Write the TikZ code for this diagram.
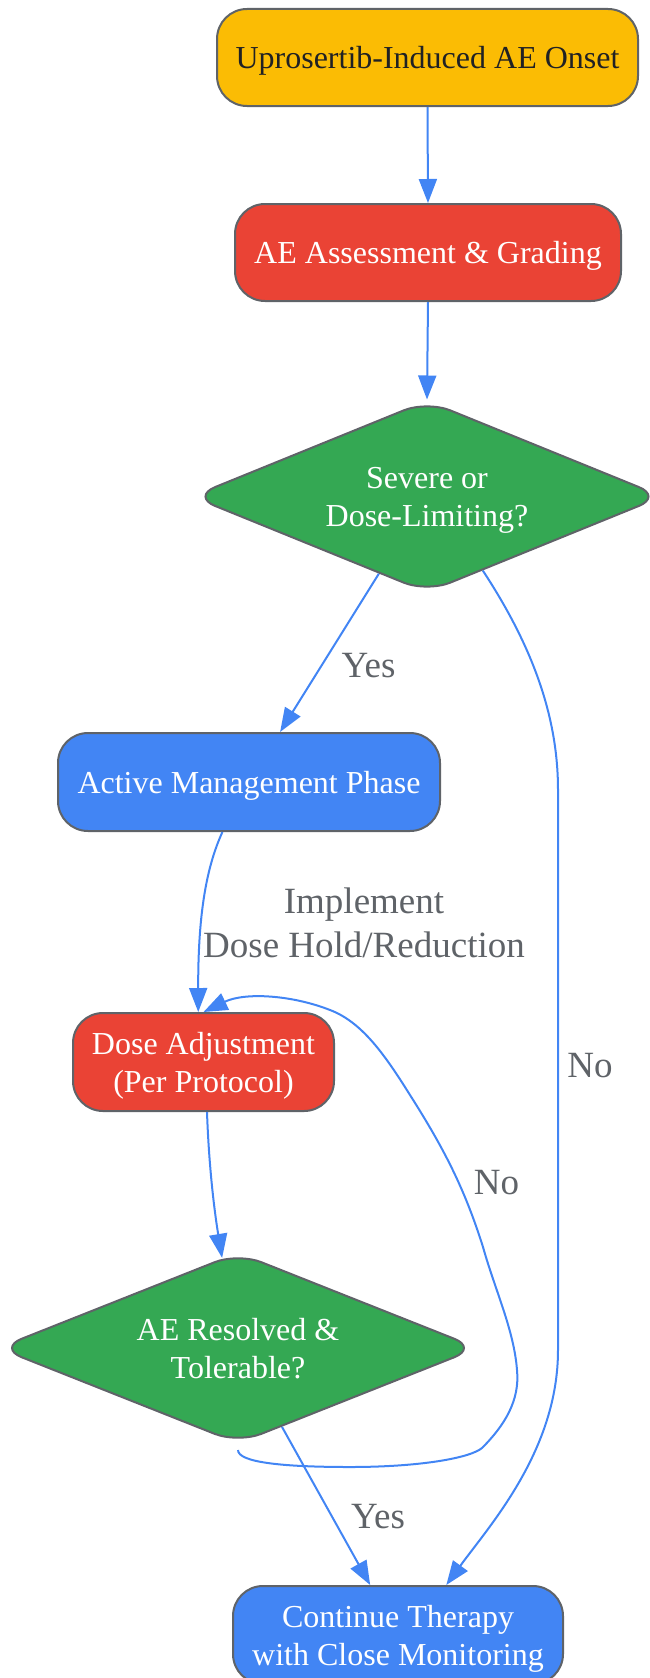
\documentclass[tikz,border=0pt]{standalone}
\usepackage{fontspec}
\setmainfont{Liberation Serif}
\usetikzlibrary{shapes.geometric,arrows.meta}
\definecolor{gyellow}{HTML}{FBBC04}
\definecolor{gred}{HTML}{EA4335}
\definecolor{ggreen}{HTML}{34A853}
\definecolor{gblue}{HTML}{4285F4}
\definecolor{edgegray}{HTML}{5F6368}
\definecolor{darktext}{HTML}{202124}
\begin{document}
\begin{tikzpicture}
[x=1pt,y=-1pt%
,every node/.style={draw=edgegray,%
	line width=2pt,%
	text=white,%
	align=center,%
	text depth=-4pt,%
	font=\fontsize{32}{38}\selectfont}%
,box/.style={rectangle,%
	rounded corners=30pt,%
	minimum height=97pt}%
,choice/.style={diamond,%
	aspect=2.5,%
	inner sep=0pt,%
	rounded corners=25pt,%
	fill=ggreen}%
,lbl/.style={draw=none,%
	text=edgegray,%
	text depth=,%
	font=\fontsize{37}{44}\selectfont}%
,flow/.style={draw=gblue,%
	line width=2pt,%
	-{Triangle[length=24pt,width=18pt]}}]
\useasboundingbox (0,0) rectangle (649,1678);
\node[box,fill=gyellow,text=darktext,minimum width=421pt] (onset) at (427.5,57.5) {Uprosertib-Induced AE Onset};
\node[box,fill=gred,minimum width=386pt] (assess) at (428,252.5) {AE Assessment \& Grading};
\node[choice,minimum width=471pt,minimum height=192pt] (severe) at (427,496.5) {Severe or\\Dose-Limiting?};
\node[box,fill=gblue,minimum width=382pt,minimum height=98pt] (active) at (249,782) {Active Management Phase};
\node[box,fill=gred,minimum width=261pt,minimum height=98pt] (dose) at (203.5,1062) {Dose Adjustment\\(Per Protocol)};
\node[choice,minimum width=480pt,minimum height=191pt] (resolved) at (238,1348) {AE Resolved \&\\Tolerable?};
\node[box,fill=gblue,minimum width=330pt,minimum height=98pt] (cont) at (398,1635) {Continue Therapy\\with Close Monitoring};
\coordinate (loopstart) at (238,1450);
\draw[flow] (onset.south) -- (assess.north);
\draw[flow] (assess.south) -- (severe.north);
\draw[flow] (severe) -- (active);
\draw[flow] (severe.-53) .. controls (535,650) and (558,720) .. (558,790) -- (558,1350) .. controls (558,1450) and (490,1525) .. (cont.46);
\draw[flow] (active.-118) .. controls (205,870) and (198,920) .. (dose.96);
\draw[flow] (dose.-86) .. controls (209,1170) and (215,1215) .. (resolved.100);
\draw[flow] (resolved) -- (cont);
\draw[flow] (loopstart) .. controls (238,1462) and (280,1467) .. (350,1467)
	.. controls (420,1467) and (470,1458) .. (482,1448)
	.. controls (505,1425) and (520,1400) .. (517,1370)
	.. controls (514,1330) and (495,1290) .. (483,1247)
	.. controls (465,1190) and (445,1150) .. (410,1095)
	.. controls (385,1055) and (362,1022) .. (330,1010)
	.. controls (292,995) and (245,992) .. (dose.north);
\node[lbl,anchor=base] (yes1) at (368.5,677) {Yes};
\node[lbl] (hold) at (364,922.5) {Implement\\Dose Hold/Reduction};
\node[lbl,anchor=base] (no1) at (590,1077) {No};
\node[lbl,anchor=base] (no2) at (496.5,1194) {No};
\node[lbl,anchor=base] (yes2) at (378,1528) {Yes};
\end{tikzpicture}
\end{document}
